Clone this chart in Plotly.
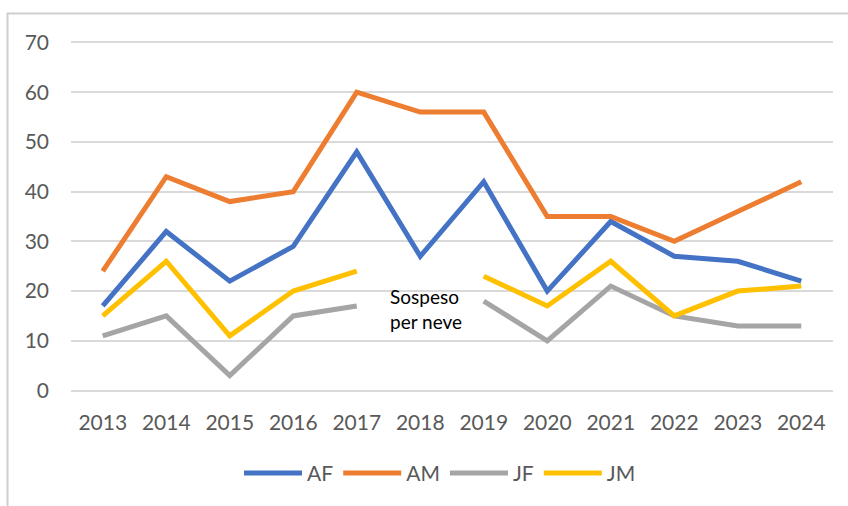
import plotly.graph_objects as go

years = ["2013", "2014", "2015", "2016", "2017", "2018", "2019", "2020", "2021", "2022", "2023", "2024"]
af = [17, 32, 22, 29, 48, 27, 42, 20, 34, 27, 26, 22]
am = [24, 43, 38, 40, 60, 56, 56, 35, 35, 30, 36, 42]
jf = [11, 15, 3, 15, 17, None, 18, 10, 21, 15, 13, 13]
jm = [15, 26, 11, 20, 24, None, 23, 17, 26, 15, 20, 21]

series = [("AF", af, "#4472C4"), ("AM", am, "#ED7D31"), ("JF", jf, "#A5A5A5"), ("JM", jm, "#FFC000")]

FONT = "Lato, 'Open Sans', sans-serif"
TXT = "#595959"

fig = go.Figure()
for name, vals, col in series:
    fig.add_trace(go.Scatter(x=years, y=vals, name=name, mode="lines",
                             line=dict(color=col, width=5), connectgaps=False))

PAD = 0.3  # keep the 0 and 70 gridlines inside the plot area
L, R, T, B = 71, 15, 40.5, 113.5
W, H = 848, 506
pw, ph = W - L - R, H - T - B

def px(x):
    return (x - L) / pw

def py(y):
    return (H - B - y) / ph

fig.add_annotation(x=5, y=py(309), yref="paper", xref="x",
                   text="Sospeso<br>per neve", showarrow=False, align="left",
                   xanchor="left", yanchor="middle", xshift=-32,
                   font=dict(family=FONT, size=19, color="#000000"))

# chart area border (only its left and top edges fall inside the picture)
fig.add_shape(type="rect", xref="paper", yref="paper", x0=px(7.5), x1=px(870), y0=py(530), y1=py(13),
              line=dict(color="#CFCFCF", width=2), fillcolor="rgba(0,0,0,0)", layer="below")

fig.update_layout(
    width=W, height=H,
    margin=dict(l=L, r=R, t=T, b=B),
    paper_bgcolor="white", plot_bgcolor="white",
    hovermode=False,
    font=dict(family=FONT, size=21, color=TXT),
    showlegend=True,
    legend=dict(orientation="h", x=px(440), xanchor="center", y=py(474), yanchor="middle",
                font=dict(family=FONT, size=21, color=TXT), itemwidth=58),
    xaxis=dict(type="category", range=[-0.5, 11.5], showgrid=False, zeroline=False, showline=False,
               ticks="", ticklabelstandoff=16, tickfont=dict(size=21, color=TXT)),
    yaxis=dict(range=[-PAD, 70 + PAD], dtick=10, showgrid=True, gridcolor="#D9D9D9", gridwidth=1.5,
               zeroline=False, showline=False, ticks="", ticklabelstandoff=21,
               tickfont=dict(size=21, color=TXT)),
)

fig.write_html("out.html", config={"displayModeBar": False},
               post_script="document.body.style.margin='0';")
